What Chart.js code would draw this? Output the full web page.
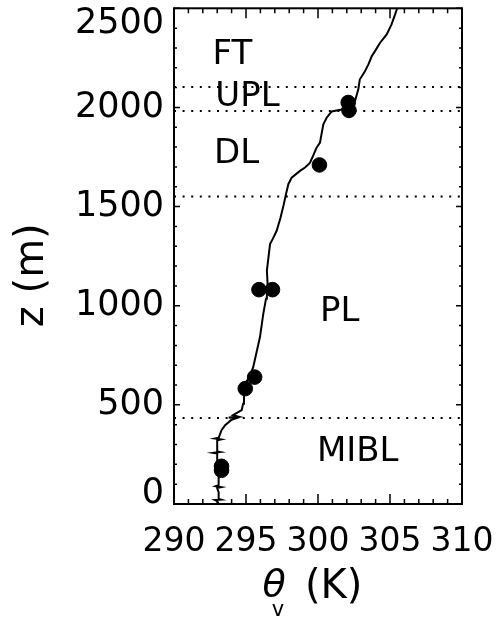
<!DOCTYPE html>
<html>
<head>
<meta charset="utf-8">
<script src="https://cdn.jsdelivr.net/npm/chart.js@4.4.1/dist/chart.umd.min.js"></script>
<style>
html, body { margin: 0; padding: 0; background: #ffffff; }
#wrap { width: 501px; height: 630px; }
</style>
</head>
<body>
<div id="wrap"><canvas id="profileChart" width="501" height="630"></canvas></div>
<script>
// virtual potential temperature profile (K) against height (m)
const thetaProfile = [293.1, 293.0, 292.85, 293.25, 293.1, 293.1, 293.0, 293.3, 292.9, 293.1, 293.1, 293.05, 293.0, 292.75, 293.2, 293.0,
  293.0, 293.25, 292.85, 293.1, 293.3, 293.55, 294.0, 294.3, 293.8, 294.5, 294.1, 294.7, 294.8, 294.86, 294.9, 295.3, 295.5,
  295.97, 296.2, 296.39, 296.45, 296.5, 296.45, 296.67, 296.85, 297.13, 297.4, 297.6, 297.78, 297.94, 298.17, 298.75, 299.1,
  299.44, 299.68, 299.9, 300.14, 300.37, 300.6, 300.95, 301.65, 302.2, 302.57, 302.8, 302.9, 303.26, 303.5, 303.73, 303.96,
  304.3, 304.77, 305.1, 305.35, 305.5];
const zProfile = [0, 15, 20, 22, 25, 60, 80, 85, 90, 95, 140, 200, 255, 258, 262, 265,
  322, 326, 330, 334, 372, 397, 425, 432, 436, 440, 448, 473, 506, 540, 600, 650, 690,
  842, 959, 1035, 1076, 1110, 1177, 1311, 1336, 1378, 1445, 1504, 1563, 1613, 1646, 1680, 1697,
  1720, 1760, 1797, 1823, 1915, 1948, 1980, 1990, 2005, 2032, 2091, 2141, 2183, 2217, 2258, 2284,
  2325, 2368, 2418, 2468, 2500];

// aircraft level-leg means
const dotTheta = [293.3, 293.3, 294.95, 295.6, 295.9, 296.84, 300.1, 302.1, 302.15];
const dotZ = [170, 190, 582, 640, 1081, 1081, 1710, 2025, 1985];

// layer boundaries (m)
const layerTops = [434, 1551, 1982, 2103];

// layer names and where they sit (theta, z)
const layerNames = ['FT', 'UPL', 'DL', 'PL', 'MIBL'];
const labelTheta = [294.06, 295.1, 294.35, 301.5, 302.76];
const labelZ = [2264, 2052, 1766, 966, 259];

const xMin = 290, xMax = 310, xMajor = 5, xMinor = 1;
const yMin = 0, yMax = 2500, yMajor = 500, yMinor = 100;

const FONT = 'DejaVu Sans';

const profilePoints = thetaProfile.map(function(t, i) { return { x: t, y: zProfile[i] }; });
const dotPoints = dotTheta.map(function(t, i) { return { x: t, y: dotZ[i] }; });

const boundaryDatasets = layerTops.map(function(h) {
  return {
    type: 'line', data: [{ x: xMin, y: h }, { x: xMax, y: h }],
    borderColor: '#000', borderWidth: 2, borderDash: [2, 6.6], pointRadius: 0, fill: false
  };
});

const framePlugin = {
  id: 'frame',
  afterDraw: function(chart) {
    const ctx = chart.ctx;
    const a = chart.chartArea;
    const xs = chart.scales.x, ys = chart.scales.y;
    ctx.save();
    ctx.strokeStyle = '#000';
    ctx.lineWidth = 1.5;
    ctx.beginPath();
    xs.ticks.forEach(function(t) {
      const px = xs.getPixelForValue(t.value);
      const len = (Math.round(t.value) % xMajor === 0) ? 10 : 5;
      ctx.moveTo(px, a.bottom); ctx.lineTo(px, a.bottom - len);
      ctx.moveTo(px, a.top); ctx.lineTo(px, a.top + len);
    });
    ys.ticks.forEach(function(t) {
      const py = ys.getPixelForValue(t.value);
      const len = (Math.round(t.value) % yMajor === 0) ? 6 : 3;
      ctx.moveTo(a.left, py); ctx.lineTo(a.left + len, py);
      ctx.moveTo(a.right, py); ctx.lineTo(a.right - len, py);
    });
    ctx.stroke();
    ctx.lineWidth = 2;
    ctx.strokeRect(a.left, a.top, a.right - a.left, a.bottom - a.top);

    // layer names
    ctx.fillStyle = '#000';
    ctx.font = '34px "' + FONT + '"';
    ctx.textAlign = 'center';
    ctx.textBaseline = 'middle';
    layerNames.forEach(function(name, i) {
      ctx.fillText(name, xs.getPixelForValue(labelTheta[i]), ys.getPixelForValue(labelZ[i]));
    });

    // x axis title: theta_v (K)
    const cx = (a.left + a.right) / 2;
    const by = a.bottom + 82;
    ctx.font = 'italic 38px "' + FONT + '"';
    ctx.fillText('θ', cx - 44, by);
    ctx.font = '21px "' + FONT + '"';
    ctx.fillText('v', cx - 40, by + 25);
    ctx.font = '40px "' + FONT + '"';
    ctx.textAlign = 'left';
    ctx.fillText('(K)', cx - 13, by + 2);
    ctx.restore();
  }
};

new Chart(document.getElementById('profileChart'), {
  type: 'scatter',
  data: {
    datasets: boundaryDatasets.concat([
      { type: 'line', data: profilePoints, borderColor: '#000', borderWidth: 2, pointRadius: 0, tension: 0, fill: false },
      { type: 'scatter', data: dotPoints, backgroundColor: '#000', borderColor: '#000', pointRadius: 7.3, pointStyle: 'circle' }
    ])
  },
  options: {
    responsive: false,
    animation: false,
    layout: { padding: { left: 0, right: 39, top: 7, bottom: 0 } },
    plugins: { legend: { display: false }, tooltip: { enabled: false } },
    scales: {
      x: {
        type: 'linear', min: xMin, max: xMax,
        grid: { display: false, drawTicks: false },
        border: { display: false },
        ticks: {
          stepSize: xMinor, autoSkip: false, maxRotation: 0, padding: 19, color: '#000',
          font: { family: FONT, size: 33 },
          callback: function(v) { return (Math.round(v) % xMajor === 0) ? String(v) : ''; }
        },
        afterFit: function(s) { s.height = 126; s.paddingLeft = 0; s.paddingRight = 0; }
      },
      y: {
        type: 'linear', min: yMin, max: yMax,
        grid: { display: false, drawTicks: false },
        border: { display: false },
        title: { display: true, text: 'z (m)\u00a0\u00a0\u00a0', color: '#000', font: { family: FONT, size: 40 }, padding: { top: 9, bottom: 0 } },
        ticks: {
          stepSize: yMinor, autoSkip: false, padding: 10, color: '#000',
          // end labels sit inside the frame, like the original
          font: function(c) {
            const v = c.tick ? c.tick.value : null;
            if (v === yMin) return { family: FONT, size: 35, lineHeight: 0.6 };
            if (v === yMax) return { family: FONT, size: 35, lineHeight: 0.9 };
            return { family: FONT, size: 35 };
          },
          callback: function(v) {
            if (Math.round(v) % yMajor !== 0) return '';
            if (v === yMin) return [String(v), ''];
            if (v === yMax) return ['', String(v)];
            return String(v);
          }
        },
        afterFit: function(s) { s.width = 174; s.paddingTop = 0; s.paddingBottom = 0; }
      }
    }
  },
  plugins: [framePlugin]
});
</script>
</body>
</html>
